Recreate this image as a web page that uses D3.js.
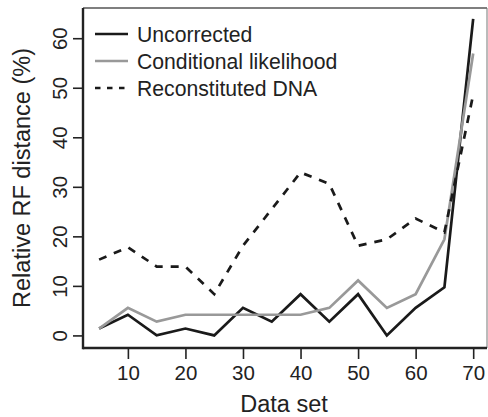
<!DOCTYPE html>
<html>
<head>
<meta charset="utf-8">
<script src="https://cdn.jsdelivr.net/npm/d3@7"></script>
<style>
  body { margin: 0; background: #fff; }
  svg { display: block; font-family: "Liberation Sans", Arial, sans-serif; }
  .tick text { fill: #222; }
</style>
</head>
<body>
<script>
const w = 488;
const h = 417;

// data sets 5..70
const dataSet = [5, 10, 15, 20, 25, 30, 35, 40, 45, 50, 55, 60, 65, 70];
const uncorrected = [1.39, 4.17, 0, 1.39, 0, 5.56, 2.78, 8.33, 2.78, 8.33, 0, 5.56, 9.72, 63.9];
const conditional = [1.39, 5.56, 2.78, 4.17, 4.17, 4.17, 4.17, 4.17, 5.56, 11.1, 5.56, 8.33, 19.4, 56.9];
const reconstituted = [15.3, 17.8, 13.9, 13.9, 8.33, 18.1, 25.5, 32.9, 30.6, 18.1, 19.4, 23.6, 20.8, 48.6];

const xTicks = [10, 20, 30, 40, 50, 60, 70];
const yTicks = [0, 10, 20, 30, 40, 50, 60];

const series = [
  { name: 'Uncorrected', values: uncorrected, color: '#1a1a1a', dash: null },
  { name: 'Conditional likelihood', values: conditional, color: '#999999', dash: null },
  { name: 'Reconstituted DNA', values: reconstituted, color: '#1a1a1a', dash: '8,8' }
];

const pLeft = 83, pRight = 487, pTop = 8, pBottom = 348;

const svg = d3.select('body').append('svg')
  .attr('width', w)
  .attr('height', h);

const xScale = d3.scaleLinear().domain([2.2, 72.4]).range([pLeft, pRight]);
const yScale = d3.scaleLinear().domain([-2.54, 66.1]).range([pBottom, pTop]);

// frame
svg.append('line').attr('x1', pLeft).attr('x2', pRight).attr('y1', pTop).attr('y2', pTop)
  .attr('stroke', '#555').attr('stroke-width', 1.4);
svg.append('line').attr('x1', pRight).attr('x2', pRight).attr('y1', pTop).attr('y2', pBottom)
  .attr('stroke', '#777').attr('stroke-width', 1);

const xAxis = d3.axisBottom(xScale).tickValues(xTicks).tickSize(11).tickPadding(6);
const yAxis = d3.axisLeft(yScale).tickValues(yTicks).tickSize(10);

const gx = svg.append('g')
  .attr('transform', 'translate(0,' + pBottom + ')')
  .call(xAxis);
gx.select('.domain').remove();
gx.selectAll('.tick line').attr('stroke', '#222').attr('stroke-width', 1.6);
gx.selectAll('.tick text').attr('font-size', '20.5px').attr('dy', '0.73em');

const gy = svg.append('g')
  .attr('transform', 'translate(' + pLeft + ',0)')
  .call(yAxis);
gy.select('.domain').remove();
gy.selectAll('.tick line').attr('stroke', '#222').attr('stroke-width', 1.6);
gy.selectAll('.tick text')
  .attr('font-size', '20.5px')
  .attr('text-anchor', 'middle')
  .attr('transform', 'rotate(-90)')
  .attr('x', 0)
  .attr('y', -16)
  .attr('dy', 0);

svg.append('line').attr('x1', pLeft).attr('x2', pRight).attr('y1', pBottom).attr('y2', pBottom)
  .attr('stroke', '#222').attr('stroke-width', 2.4);
svg.append('line').attr('x1', pLeft).attr('x2', pLeft).attr('y1', pTop).attr('y2', pBottom + 1.2)
  .attr('stroke', '#222').attr('stroke-width', 2.4);

const line = d3.line()
  .x((d, i) => xScale(dataSet[i]))
  .y(d => yScale(d));

svg.selectAll('.series')
  .data(series)
  .enter()
  .append('path')
  .attr('class', 'series')
  .attr('d', d => line(d.values))
  .attr('fill', 'none')
  .attr('stroke', d => d.color)
  .attr('stroke-width', 2.7)
  .attr('stroke-dasharray', d => d.dash);

// legend
const legend = svg.append('g');
series.forEach((s, i) => {
  const y = 34 + i * 27;
  legend.append('line')
    .attr('x1', 95).attr('x2', 128).attr('y1', y).attr('y2', y)
    .attr('stroke', s.color)
    .attr('stroke-width', 2.7)
    .attr('stroke-dasharray', s.dash ? '5.5,6.5' : null);
  legend.append('text')
    .attr('x', 137).attr('y', y).attr('dy', '0.36em')
    .attr('font-size', '21.2px')
    .attr('fill', '#222')
    .text(s.name);
});

svg.append('text')
  .attr('x', (pLeft + pRight) / 2 - 1)
  .attr('y', 412)
  .attr('text-anchor', 'middle')
  .attr('font-size', '23.5px')
  .attr('fill', '#222')
  .text('Data set');

svg.append('text')
  .attr('transform', 'translate(30,' + ((pTop + pBottom) / 2) + ') rotate(-90)')
  .attr('text-anchor', 'middle')
  .attr('font-size', '23.5px')
  .attr('fill', '#222')
  .text('Relative RF distance (%)');
</script>
</body>
</html>
